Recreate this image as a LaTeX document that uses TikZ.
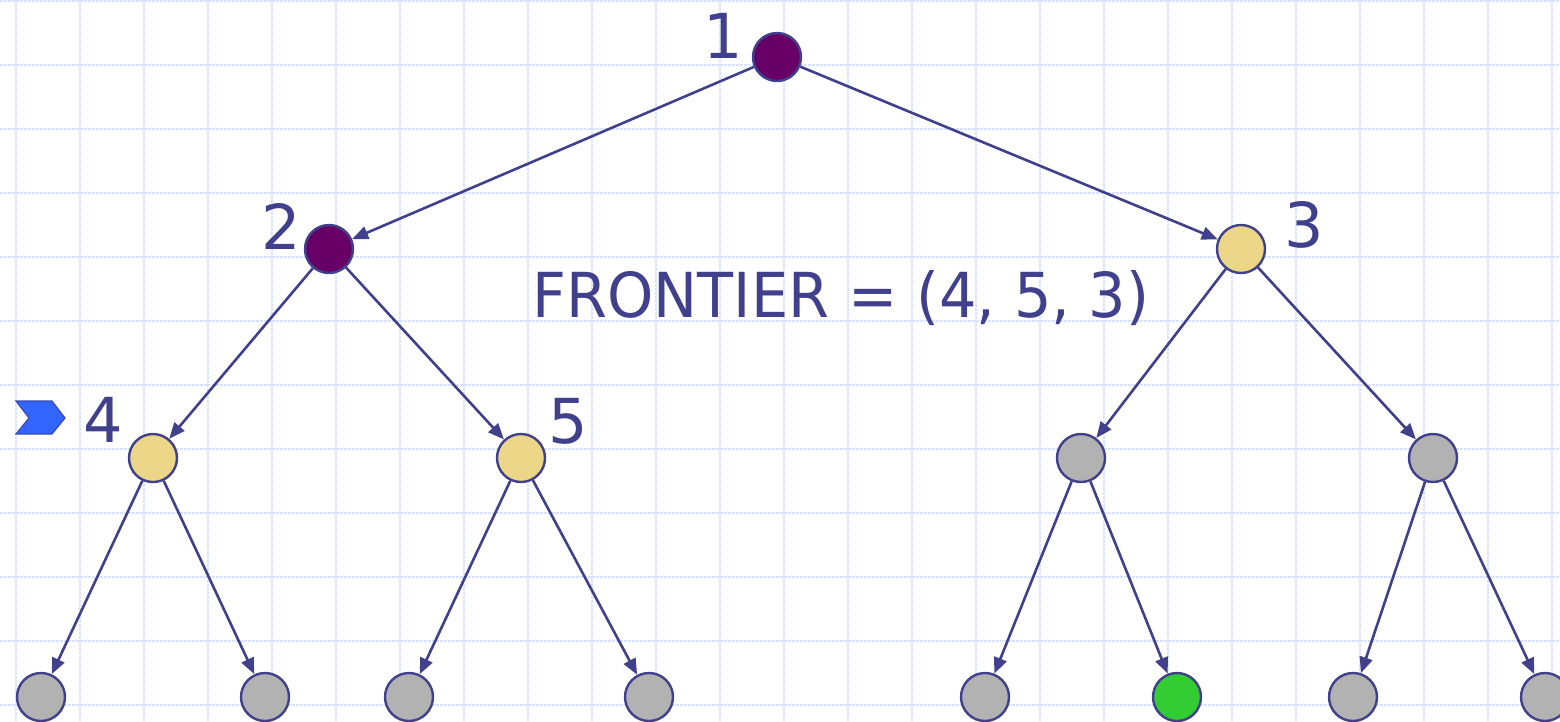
\documentclass[tikz,border=0pt]{standalone}
\usepackage{fontspec}
\setmainfont{DejaVu Sans}
\usetikzlibrary{arrows.meta}
\definecolor{navy}{RGB}{64,64,140}
\definecolor{gridc}{RGB}{218,226,250}
\definecolor{purp}{RGB}{102,0,102}
\definecolor{yel}{RGB}{235,215,135}
\definecolor{gry}{RGB}{178,178,178}
\definecolor{grn}{RGB}{51,204,51}
\definecolor{mblue}{RGB}{50,100,255}
\tikzset{
  vtx/.style={circle,draw=navy,line width=2.4pt,minimum size=48pt,inner sep=0pt},
  edge/.style={draw=navy,line width=2.6pt,-{Triangle[length=16pt,width=13pt]}},
  lbl/.style={text=navy,font=\fontsize{62}{62}\selectfont,anchor=base,inner sep=0pt},
}
\begin{document}
\begin{tikzpicture}[x=1pt,y=-1pt]
\useasboundingbox (0,0) rectangle (1560,721);
\clip (0,0) rectangle (1560,721);
\fill[white] (0,0) rectangle (1560,721);
% grid
\foreach \gx in {16,80,...,1560} \draw[gridc,line width=1.6pt,dash pattern=on 2.5pt off 1.5pt] (\gx,0) -- (\gx,721);
\foreach \gy in {1,65,...,721} \draw[gridc,line width=1.6pt,dash pattern=on 2.5pt off 1.5pt] (0,\gy) -- (1560,\gy);
% nodes
\node[vtx,fill=purp] (n1) at (777,57) {};
\node[vtx,fill=purp] (n2) at (329,249) {};
\node[vtx,fill=yel] (n3) at (1241,249) {};
\node[vtx,fill=yel] (n4) at (153,458) {};
\node[vtx,fill=yel] (n5) at (521,458) {};
\node[vtx,fill=gry] (n6) at (1081,458) {};
\node[vtx,fill=gry] (n7) at (1433,458) {};
\node[vtx,fill=gry] (l1) at (41,697) {};
\node[vtx,fill=gry] (l2) at (265,697) {};
\node[vtx,fill=gry] (l3) at (409,697) {};
\node[vtx,fill=gry] (l4) at (649,697) {};
\node[vtx,fill=gry] (l5) at (985,697) {};
\node[vtx,fill=grn] (l6) at (1177,697) {};
\node[vtx,fill=gry] (l7) at (1353,697) {};
\node[vtx,fill=gry] (l8) at (1545,697) {};
% edges
\draw[edge] (n1) -- (n2);
\draw[edge] (n1) -- (n3);
\draw[edge] (n2) -- (n4);
\draw[edge] (n2) -- (n5);
\draw[edge] (n3) -- (n6);
\draw[edge] (n3) -- (n7);
\draw[edge] (n4) -- (l1);
\draw[edge] (n4) -- (l2);
\draw[edge] (n5) -- (l3);
\draw[edge] (n5) -- (l4);
\draw[edge] (n6) -- (l5);
\draw[edge] (n6) -- (l6);
\draw[edge] (n7) -- (l7);
\draw[edge] (n7) -- (l8);
% labels
\node[lbl] (t1) at (723,58) {1};
\node[lbl] (t2) at (281,249) {2};
\node[lbl] (t3) at (1304,247) {3};
\node[lbl] (t4) at (103,442) {4};
\node[lbl] (t5) at (568,443) {5};
\node[lbl,xscale=0.95] (fr) at (841,317) {FRONTIER = (4, 5, 3)};
% marker
\filldraw[fill=mblue,draw=navy!70!mblue,line width=1.2pt] (16,401) -- (52,401) -- (65,418) -- (52,434) -- (16,434) -- (29,418) -- cycle;
\end{tikzpicture}
\end{document}
